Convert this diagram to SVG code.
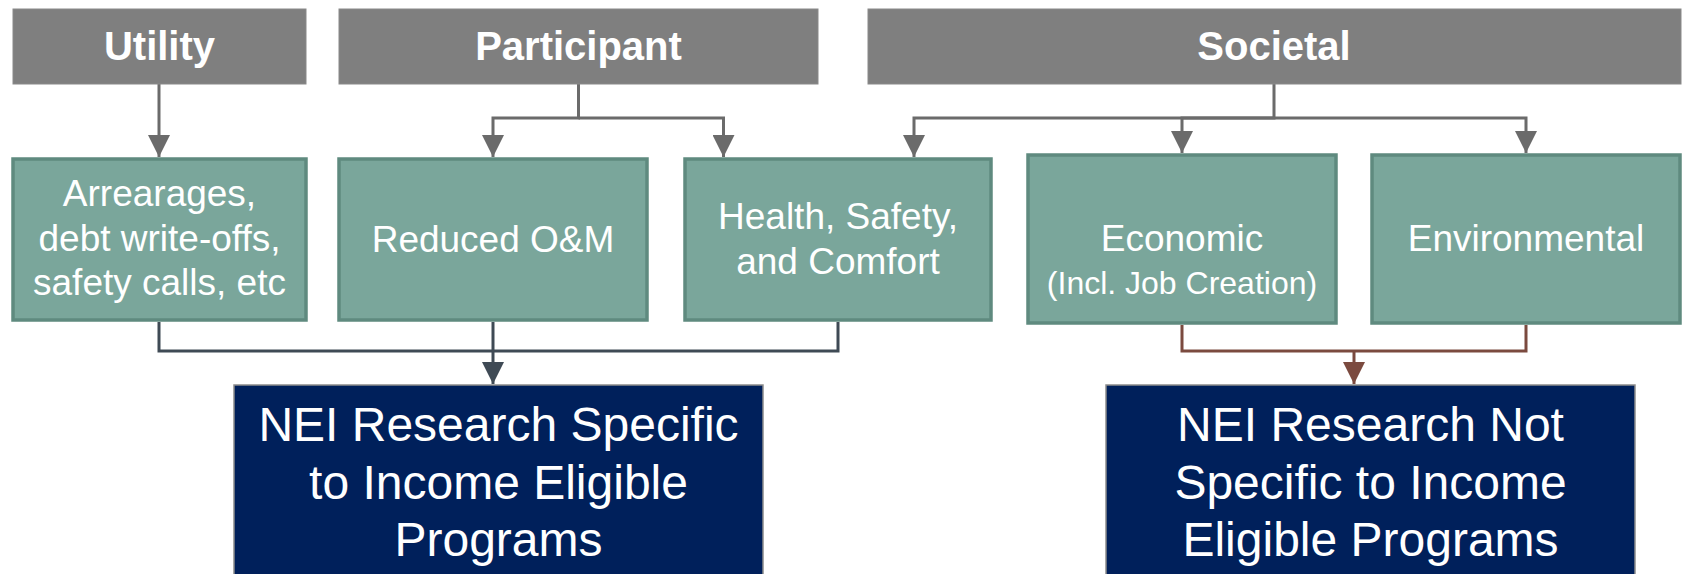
<svg xmlns="http://www.w3.org/2000/svg" width="1683" height="574" viewBox="0 0 1683 574">
<style>
.hdr{fill:#7f7f7f;stroke:#8a8a8a;stroke-width:1}
.hdrt{font-family:"Liberation Sans",Arial,sans-serif;font-weight:bold;font-size:40px;fill:#ffffff;text-anchor:middle}
.grn{fill:#7aa69b;stroke:#5f8a7f;stroke-width:3.5}
.gt{font-family:"Liberation Sans",Arial,sans-serif;font-size:37px;fill:#ffffff;text-anchor:middle}
.gs{font-size:32px}
.nv{fill:#00205b;stroke:#8c8c8c;stroke-width:1.5}
.nt{font-family:"Liberation Sans",Arial,sans-serif;font-size:48px;fill:#ffffff;text-anchor:middle}
.cg{fill:none;stroke:#6b6b6b;stroke-width:3}
.cs{fill:none;stroke:#3f4a55;stroke-width:3}
.cb{fill:none;stroke:#7b4a3f;stroke-width:3}
</style>
<defs>
<marker id="ag" viewBox="0 0 22 22" refX="22" refY="11" markerWidth="22" markerHeight="22" markerUnits="userSpaceOnUse" orient="auto"><path d="M0,0 L22,11 L0,22 Z" fill="#6b6b6b"/></marker>
<marker id="as" viewBox="0 0 22 22" refX="22" refY="11" markerWidth="22" markerHeight="22" markerUnits="userSpaceOnUse" orient="auto"><path d="M0,0 L22,11 L0,22 Z" fill="#3f4a55"/></marker>
<marker id="ab" viewBox="0 0 22 22" refX="22" refY="11" markerWidth="22" markerHeight="22" markerUnits="userSpaceOnUse" orient="auto"><path d="M0,0 L22,11 L0,22 Z" fill="#7b4a3f"/></marker>
</defs>
<rect width="1683" height="574" fill="#ffffff"/>

<g id="connectors">
<path class="cg" d="M159,84 V157" marker-end="url(#ag)"/>
<path class="cg" d="M578.5,84 V118 H493 V157" marker-end="url(#ag)"/>
<path class="cg" d="M578.5,118 H723.5 V157" marker-end="url(#ag)"/>
<path class="cg" d="M1274,84 V118 H914 V157" marker-end="url(#ag)"/>
<path class="cg" d="M1274,118 H1182 V153" marker-end="url(#ag)"/>
<path class="cg" d="M1274,118 H1526 V153" marker-end="url(#ag)"/>
<path class="cs" d="M159,322 V351 H838 V322"/>
<path class="cs" d="M493,322 V384" marker-end="url(#as)"/>
<path class="cb" d="M1182,325 V351 H1526 V325"/>
<path class="cb" d="M1354,351 V384" marker-end="url(#ab)"/>
</g>

<g id="utility"><rect class="hdr" x="13" y="9" width="293" height="75"/><text class="hdrt" x="159.5" y="60">Utility</text></g>
<g id="participant"><rect class="hdr" x="339" y="9" width="479" height="75"/><text class="hdrt" x="578.5" y="60">Participant</text></g>
<g id="societal"><rect class="hdr" x="868" y="9" width="813" height="75"/><text class="hdrt" x="1274" y="60">Societal</text></g>

<g id="arrearages"><rect class="grn" x="13" y="159" width="293" height="161"/>
<text class="gt" x="159.5" y="206">Arrearages,</text>
<text class="gt" x="159.5" y="250.5">debt write-offs,</text>
<text class="gt" x="159.5" y="295">safety calls, etc</text></g>
<g id="reduced-om"><rect class="grn" x="339" y="159" width="308" height="161"/>
<text class="gt" x="493" y="252">Reduced O&amp;M</text></g>
<g id="health"><rect class="grn" x="685" y="159" width="306" height="161"/>
<text class="gt" x="838" y="229">Health, Safety,</text>
<text class="gt" x="838" y="274">and Comfort</text></g>
<g id="economic"><rect class="grn" x="1028" y="155" width="308" height="168"/>
<text class="gt" x="1182" y="251">Economic</text>
<text class="gt gs" x="1182" y="294">(Incl. Job Creation)</text></g>
<g id="environmental"><rect class="grn" x="1372" y="155" width="308" height="168"/>
<text class="gt" x="1526" y="251">Environmental</text></g>

<g id="nei-specific"><rect class="nv" x="234" y="385" width="529" height="200"/>
<text class="nt" x="498.5" y="441">NEI Research Specific</text>
<text class="nt" x="498.5" y="499">to Income Eligible</text>
<text class="nt" x="498.5" y="556">Programs</text></g>
<g id="nei-not-specific"><rect class="nv" x="1106" y="385" width="529" height="200"/>
<text class="nt" x="1370.5" y="441">NEI Research Not</text>
<text class="nt" x="1370.5" y="499">Specific to Income</text>
<text class="nt" x="1370.5" y="556">Eligible Programs</text></g>
</svg>
